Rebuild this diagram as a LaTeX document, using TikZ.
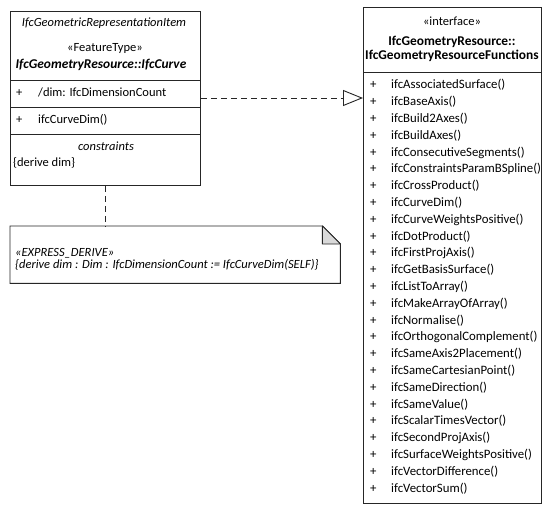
\documentclass[tikz,border=0pt]{standalone}
\usepackage{fontspec}
\setmainfont{Carlito}
\usetikzlibrary{positioning}
\usetikzlibrary{arrows.meta}

\newcommand{\umlsize}{\fontsize{12.5}{13}\selectfont}
\newcommand{\umltitle}{\fontsize{13.4}{14}\selectfont}

\begin{document}
\begin{tikzpicture}
	[x=1pt, y=-1pt,
	every node/.append style={font=\umlsize, inner sep=0pt},
	classbox/.style={draw=black!85, line width=0.9pt, anchor=north west},
	sep/.style={draw=black!85, line width=0.9pt},
	member/.style={anchor=base west},
	title/.style={anchor=base},
	dashline/.style={draw=black!85, line width=0.9pt, dash pattern=on 6pt off 4pt},
	>={Triangle[open, length=20pt, width=16pt, fill=white]}]

	\useasboundingbox (0,0) rectangle (550,511);

	% boxes
	\node [classbox, minimum width=190pt, minimum height=174pt] (curve) at (10,11) {};
	\node [classbox, minimum width=178pt, minimum height=496pt] (funcs) at (363,7) {};
	\node [anchor=north west, minimum width=330pt, minimum height=57pt] (note) at (10,226) {};

	% note outline
	\draw [sep] (note.north west) -- ([xshift=-18pt]note.north east) -- ([yshift=-18pt]note.north east)
		-- (note.south east) -- (note.south west) -- cycle;
	\draw [sep, fill=black!15, line join=round] ([xshift=-18pt]note.north east) -- ([xshift=-18pt,yshift=-18pt]note.north east)
		-- ([yshift=-18pt]note.north east) -- cycle;

	% compartments
	\draw [sep] (curve.west |- 0,80)  -- (curve.east |- 0,80);
	\draw [sep] (curve.west |- 0,107) -- (curve.east |- 0,107);
	\draw [sep] (curve.west |- 0,134) -- (curve.east |- 0,134);
	\draw [sep] (funcs.west |- 0,72)  -- (funcs.east |- 0,72);

	% left class
	\node [title, font=\umlsize\itshape] (parent) at (104,27) {IfcGeometricRepresentationItem};
	\node [title] (feature) at (105,52) {«FeatureType»};
	\node [title, font=\umltitle\bfseries\itshape] (curvename) at (101,69) {IfcGeometryResource::IfcCurve};
	\node [member] (dimattr) at (16,97) {\begin{tabular}{@{}p{22pt}@{}l@{}}+ & /dim: IfcDimensionCount\end{tabular}};
	\node [member] (curvedim) at (16,124) {\begin{tabular}{@{}p{22pt}@{}l@{}}+ & ifcCurveDim()\end{tabular}};
	\node [title, font=\umlsize\itshape] (constr) at (106,150) {constraints};
	\node [member] (derive) at (13,167) {\{derive dim\}};

	% interface
	\node [title] (iface) at (452,26) {«interface»};
	\node [title, font=\umltitle\bfseries] (pkg) at (452,46) {IfcGeometryResource::};
	\node [title, font=\umltitle\bfseries] (funcsname) at (452,60) {IfcGeometryResourceFunctions};
	\node [member, font=\fontsize{12.8}{16.8}\selectfont] (ops) at (370,89) {%
		\begin{tabular}[t]{@{}p{21pt}@{}l@{}}
		+ & ifcAssociatedSurface()\\
		+ & ifcBaseAxis()\\
		+ & ifcBuild2Axes()\\
		+ & ifcBuildAxes()\\
		+ & ifcConsecutiveSegments()\\
		+ & ifcConstraintsParamBSpline()\\
		+ & ifcCrossProduct()\\
		+ & ifcCurveDim()\\
		+ & ifcCurveWeightsPositive()\\
		+ & ifcDotProduct()\\
		+ & ifcFirstProjAxis()\\
		+ & ifcGetBasisSurface()\\
		+ & ifcListToArray()\\
		+ & ifcMakeArrayOfArray()\\
		+ & ifcNormalise()\\
		+ & ifcOrthogonalComplement()\\
		+ & ifcSameAxis2Placement()\\
		+ & ifcSameCartesianPoint()\\
		+ & ifcSameDirection()\\
		+ & ifcSameValue()\\
		+ & ifcScalarTimesVector()\\
		+ & ifcSecondProjAxis()\\
		+ & ifcSurfaceWeightsPositive()\\
		+ & ifcVectorDifference()\\
		+ & ifcVectorSum()
		\end{tabular}};

	% note text
	\node [member, font=\umlsize\itshape] (stereo) at (15,256.5) {«EXPRESS\_DERIVE»};
	\node [member, font=\umlsize\itshape] (rule) at (15,268.5) {\{derive dim : Dim : IfcDimensionCount := IfcCurveDim(SELF)\}};

	% connectors
	\draw [dashline, ->] (curve.east |- 0,98) -- (funcs.west |- 0,98);
	\draw [dashline] (curve.south) -- (note.north -| curve.south);
\end{tikzpicture}
\end{document}
